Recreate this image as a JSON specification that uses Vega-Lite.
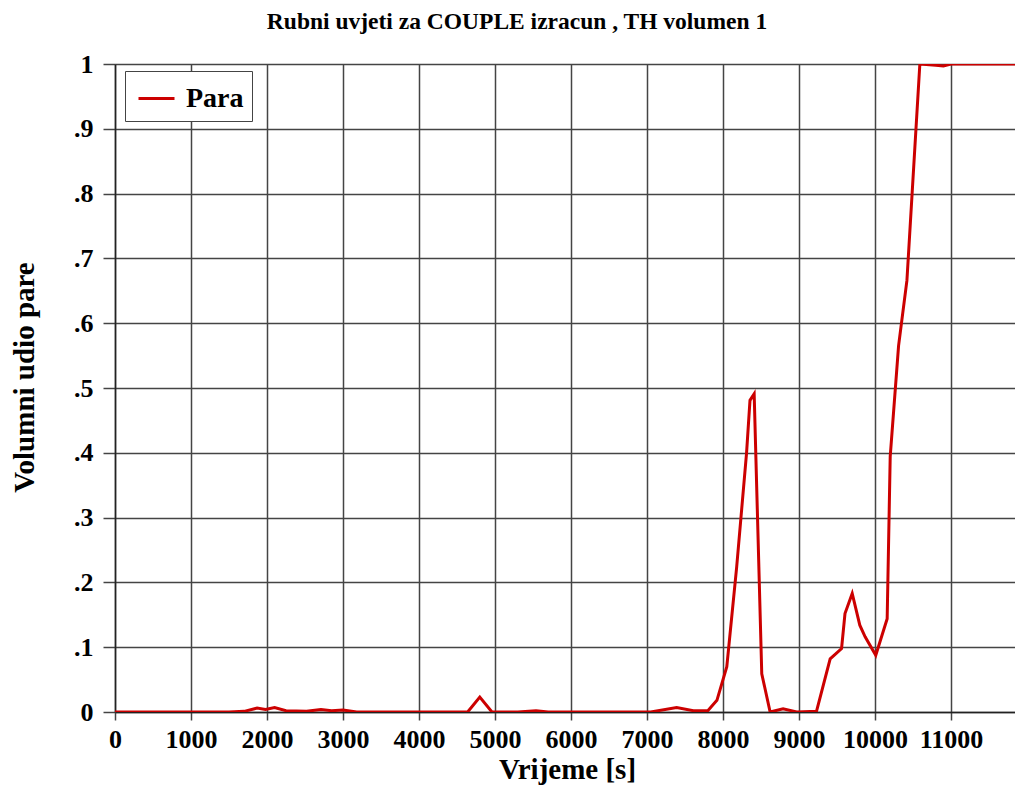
{
  "$schema": "https://vega.github.io/schema/vega-lite/v6.json",
  "autosize": {"type": "none"},
  "width": 900,
  "height": 648,
  "padding": {"left": 115, "top": 64, "right": 0, "bottom": 82},
  "background": "white",
  "title": {
    "text": "Rubni  uvjeti  za  COUPLE  izracun ,  TH  volumen  1",
    "font": "Liberation Serif",
    "fontSize": 23.5,
    "fontWeight": "bold",
    "color": "black",
    "anchor": "middle",
    "frame": "group",
    "dx": -48,
    "offset": 18
  },
  "config": {
    "view": {"stroke": null},
    "axis": {
      "labelFont": "Liberation Serif",
      "labelFontSize": 26,
      "labelFontWeight": "bold",
      "labelColor": "black",
      "titleFont": "Liberation Serif",
      "titleFontSize": 29,
      "titleFontWeight": "bold",
      "titleColor": "black",
      "gridColor": "#444",
      "gridWidth": 1.5,
      "gridOpacity": 1,
      "domainColor": "#222",
      "domainWidth": 1.5,
      "tickColor": "#444",
      "tickWidth": 1.5
    }
  },
  "data": {
    "values": [
      {"t": 0, "v": 0},
      {"t": 1500, "v": 0},
      {"t": 1700, "v": 0.001},
      {"t": 1870, "v": 0.006},
      {"t": 1980, "v": 0.004},
      {"t": 2100, "v": 0.007},
      {"t": 2250, "v": 0.002},
      {"t": 2520, "v": 0.001},
      {"t": 2710, "v": 0.004},
      {"t": 2850, "v": 0.002},
      {"t": 3000, "v": 0.003},
      {"t": 3180, "v": 0},
      {"t": 4640, "v": 0},
      {"t": 4800, "v": 0.023},
      {"t": 4960, "v": 0},
      {"t": 5300, "v": 0},
      {"t": 5540, "v": 0.002},
      {"t": 5700, "v": 0},
      {"t": 7050, "v": 0},
      {"t": 7390, "v": 0.007},
      {"t": 7610, "v": 0.002},
      {"t": 7800, "v": 0.002},
      {"t": 7920, "v": 0.018},
      {"t": 8050, "v": 0.07},
      {"t": 8180, "v": 0.224},
      {"t": 8310, "v": 0.4},
      {"t": 8355, "v": 0.481},
      {"t": 8410, "v": 0.491},
      {"t": 8510, "v": 0.059},
      {"t": 8620, "v": 0},
      {"t": 8790, "v": 0.005},
      {"t": 8970, "v": 0},
      {"t": 9230, "v": 0.001},
      {"t": 9410, "v": 0.082},
      {"t": 9560, "v": 0.098},
      {"t": 9605, "v": 0.152},
      {"t": 9700, "v": 0.183},
      {"t": 9800, "v": 0.134},
      {"t": 9870, "v": 0.116},
      {"t": 10010, "v": 0.0875},
      {"t": 10160, "v": 0.144},
      {"t": 10200, "v": 0.394},
      {"t": 10310, "v": 0.565},
      {"t": 10420, "v": 0.666},
      {"t": 10590, "v": 1.0},
      {"t": 10800, "v": 0.998},
      {"t": 10900, "v": 0.997},
      {"t": 11000, "v": 1.0},
      {"t": 11842, "v": 1.0}
    ]
  },
  "mark": {"type": "line", "strokeWidth": 3, "clip": true},
  "encoding": {
    "x": {
      "field": "t",
      "type": "quantitative",
      "scale": {"domain": [0, 11842], "nice": false, "zero": false},
      "axis": {
        "title": "Vrijeme [s]",
        "values": [0, 1000, 2000, 3000, 4000, 5000, 6000, 7000, 8000, 9000, 10000, 11000],
        "format": "d",
        "tickSize": 8,
        "labelPadding": 6,
        "titlePadding": 3,
        "titleX": 452,
        "labelFlush": false,
        "labelOverlap": false
      }
    },
    "y": {
      "field": "v",
      "type": "quantitative",
      "scale": {"domain": [0, 1], "nice": false},
      "axis": {
        "title": "Volumni udio pare",
        "values": [0, 0.1, 0.2, 0.3, 0.4, 0.5, 0.6, 0.7, 0.8, 0.9, 1],
        "labelExpr": "datum.value >= 1 ? '1' : datum.value <= 0 ? '0' : '.' + round(datum.value * 10)",
        "tickSize": 12,
        "labelPadding": 10,
        "titlePadding": 34,
        "titleY": 313,
        "labelFlush": false,
        "labelOverlap": false
      }
    },
    "color": {
      "datum": "Para",
      "type": "nominal",
      "scale": {"range": ["#cc0000"]},
      "legend": {
        "title": null,
        "orient": "none",
        "legendX": 10,
        "legendY": 7,
        "symbolType": "stroke",
        "symbolSize": 1296,
        "symbolStrokeWidth": 3,
        "symbolOffset": 4,
        "labelFont": "Liberation Serif",
        "labelFontSize": 28,
        "labelFontWeight": "bold",
        "labelColor": "black",
        "strokeColor": "#444",
        "fillColor": "white",
        "padding": 8,
        "labelOffset": 10
      }
    }
  }
}
